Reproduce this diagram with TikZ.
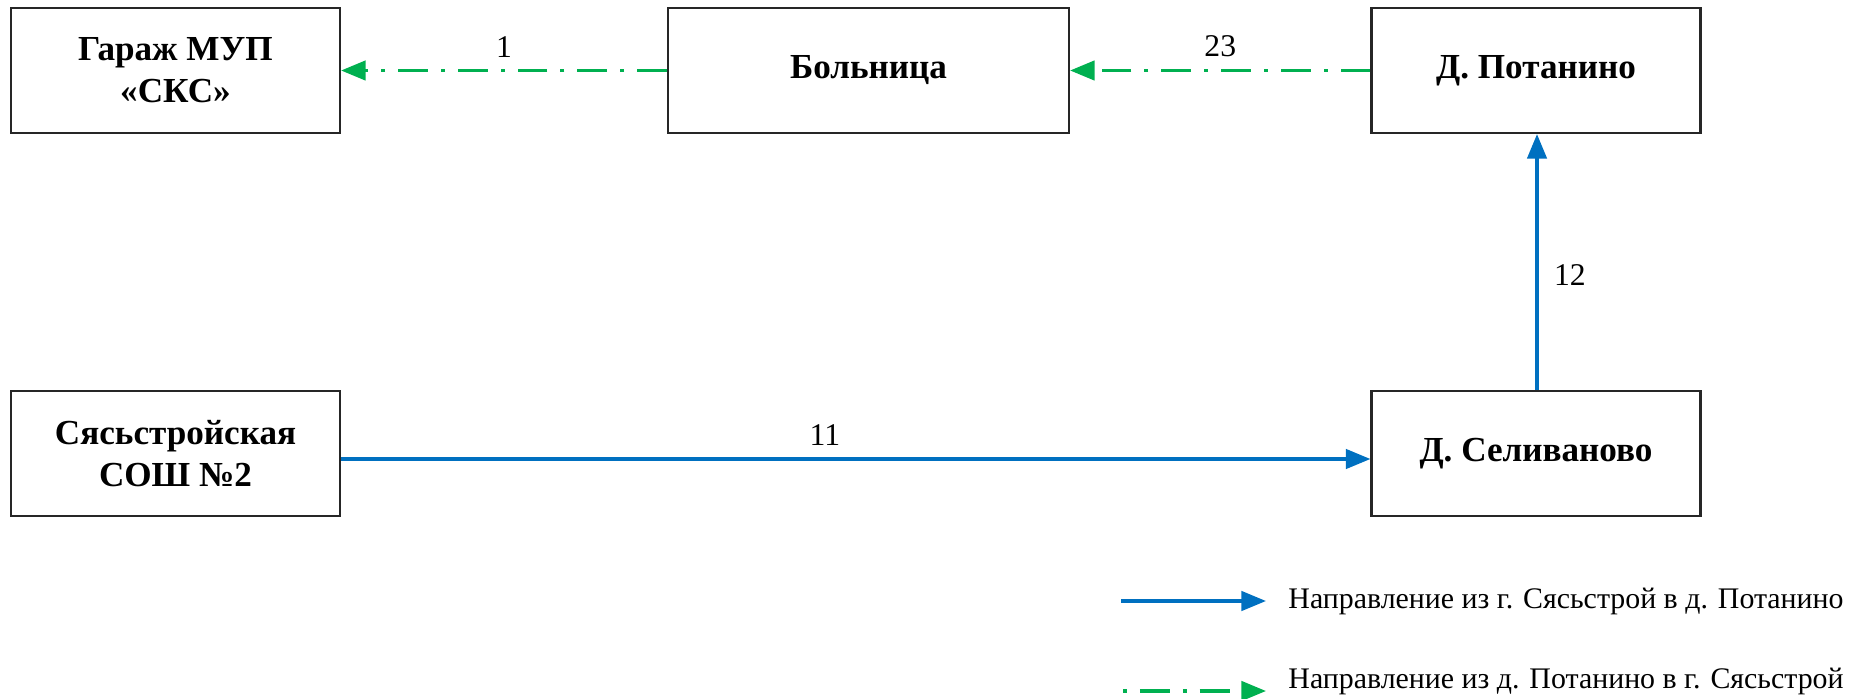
\documentclass[tikz,border=0pt]{standalone}
\usepackage{fontspec}
\setmainfont{Liberation Serif}
\usetikzlibrary{arrows.meta}

\definecolor{lineblue}{RGB}{0,112,192}
\definecolor{linegreen}{RGB}{0,176,80}

\tikzset{
    box/.style={draw=black!85, line width=0.6pt, minimum width=3.29cm, minimum height=1.25cm, align=center, font=\fontsize{10}{12}\selectfont\bfseries},
    blueline/.style={draw=lineblue, line width=1pt, -{Triangle[length=7pt,width=5.5pt]}},
    greenline/.style={draw=linegreen, line width=1pt, dash pattern=on 8.5pt off 3.7pt on 1.1pt off 3.7pt, -{Triangle[length=7pt,width=5.5pt]}},
    lbl/.style={font=\fontsize{9}{11}\selectfont},
    leg/.style={font=\fontsize{8.5}{10}\selectfont, anchor=west}
}

\begin{document}
\begin{tikzpicture}
    \useasboundingbox (0,0) rectangle (18.74,6.98);

    % пункты
    \node[box] (garage) at (1.755,6.275) {Гараж МУП\\«СКС»};
    \node[box, minimum width=4.01cm] (hosp) at (8.685,6.275) {Больница};
    \node[box] (potanino) at (15.36,6.275) {Д. Потанино};
    \node[box] (school) at (1.755,2.445) {Сясьстройская\\СОШ №2};
    \node[box] (selivanovo) at (15.36,2.445) {Д. Селиваново};

    % из г. Сясьстрой в д. Потанино
    \draw[blueline] (school.east |- 0,2.39) -- node[lbl, above, pos=0.47] {11} (selivanovo.west |- 0,2.39);
    \draw[blueline] (selivanovo.north -| 15.37,0) -- node[lbl, right=1pt, pos=0.45] {12} (potanino.south -| 15.37,0);

    % из д. Потанино в г. Сясьстрой
    \draw[greenline] (potanino.west) -- node[lbl, above] {23} (hosp.east);
    \draw[greenline] (hosp.west) -- node[lbl, above] {1} (garage.east);

    % легенда
    \coordinate (b1) at (11.21,0.97);
    \coordinate (b2) at (12.66,0.97);
    \draw[blueline] (b1) -- (b2);
    \node[leg] (legblue) at (12.76,0.97) {Направление из г. Сясьстрой в д. Потанино};
    \coordinate (g1) at (11.23,0.07);
    \coordinate (g2) at (12.66,0.07);
    \draw[greenline, dash pattern=on 1.1pt off 3.7pt on 8.5pt off 3.7pt] (g1) -- (g2);
    \node[leg] (leggreen) at (12.76,0.17) {Направление из д. Потанино в г. Сясьстрой};
\end{tikzpicture}
\end{document}
